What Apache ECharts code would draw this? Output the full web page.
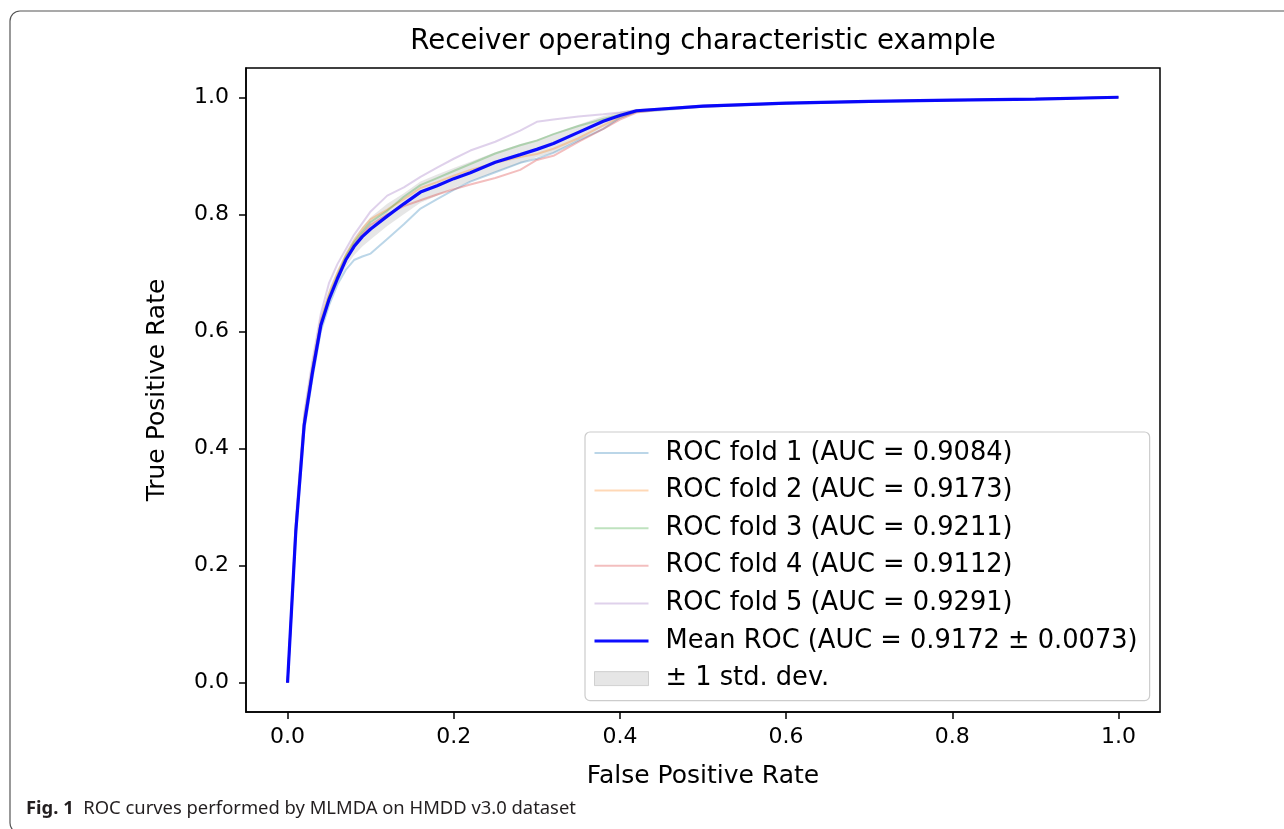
<!DOCTYPE html>
<html>
<head>
<meta charset="utf-8">
<style>
  html, body { margin: 0; padding: 0; background: #fff; }
  #roc { width: 1284px; height: 829px; }
</style>
<script src="https://cdn.jsdelivr.net/npm/echarts@6/dist/echarts.min.js"></script>
</head>
<body>
<div id="roc"></div>
<script>
  // false positive rate grid shared by every curve
  const fpr = [0, 0.005, 0.01, 0.02, 0.03, 0.04, 0.05, 0.06, 0.07, 0.08, 0.09, 0.10, 0.12, 0.14, 0.16, 0.18,
    0.20, 0.22, 0.25, 0.28, 0.30, 0.32, 0.35, 0.38, 0.40, 0.42, 0.45, 0.5, 0.6, 0.7, 0.8, 0.9, 1.0]

  // tpr of each fold
  const fold1 = [0, 0.12, 0.25, 0.43, 0.52, 0.60, 0.645, 0.68, 0.705, 0.722, 0.728, 0.733, 0.758, 0.783, 0.81, 0.826,
    0.842, 0.856, 0.872, 0.888, 0.895, 0.905, 0.926, 0.946, 0.965, 0.975, 0.978, 0.984, 0.989, 0.992, 0.995, 0.997, 1.0]
  const fold2 = [0, 0.13, 0.27, 0.45, 0.54, 0.62, 0.665, 0.70, 0.73, 0.755, 0.775, 0.792, 0.808, 0.826, 0.845, 0.855,
    0.866, 0.876, 0.888, 0.898, 0.903, 0.912, 0.93, 0.952, 0.966, 0.976, 0.98, 0.985, 0.99, 0.993, 0.995, 0.997, 1.0]
  const fold3 = [0, 0.13, 0.27, 0.45, 0.54, 0.615, 0.66, 0.695, 0.728, 0.752, 0.77, 0.787, 0.806, 0.83, 0.85, 0.862,
    0.874, 0.886, 0.904, 0.918, 0.926, 0.937, 0.951, 0.963, 0.97, 0.977, 0.98, 0.985, 0.99, 0.993, 0.995, 0.997, 1.0]
  const fold4 = [0, 0.13, 0.26, 0.44, 0.535, 0.61, 0.655, 0.69, 0.722, 0.748, 0.766, 0.782, 0.80, 0.814, 0.824, 0.834,
    0.843, 0.851, 0.862, 0.876, 0.893, 0.90, 0.924, 0.946, 0.962, 0.974, 0.979, 0.984, 0.99, 0.993, 0.995, 0.997, 1.0]
  const fold5 = [0, 0.14, 0.28, 0.46, 0.55, 0.63, 0.683, 0.715, 0.74, 0.765, 0.785, 0.805, 0.832, 0.846, 0.864, 0.88,
    0.895, 0.909, 0.924, 0.943, 0.958, 0.962, 0.967, 0.971, 0.974, 0.978, 0.981, 0.986, 0.99, 0.993, 0.995, 0.997, 1.0]

  const meanTpr = [0, 0.13, 0.26, 0.44, 0.53, 0.61, 0.655, 0.69, 0.722, 0.745, 0.762, 0.775, 0.797, 0.818, 0.838, 0.849,
    0.861, 0.871, 0.889, 0.902, 0.911, 0.921, 0.94, 0.959, 0.969, 0.977, 0.98, 0.985, 0.99, 0.993, 0.995, 0.997, 1.0]
  const bandLow = [0, 0.12, 0.255, 0.435, 0.525, 0.603, 0.648, 0.682, 0.71, 0.73, 0.745, 0.757, 0.78, 0.80, 0.82, 0.832,
    0.845, 0.856, 0.872, 0.887, 0.898, 0.905, 0.927, 0.949, 0.963, 0.974, 0.978, 0.984, 0.989, 0.992, 0.994, 0.996, 1.0]
  const bandHigh = [0, 0.14, 0.275, 0.455, 0.545, 0.625, 0.672, 0.705, 0.735, 0.76, 0.779, 0.795, 0.818, 0.836, 0.856, 0.868,
    0.879, 0.89, 0.906, 0.92, 0.928, 0.938, 0.953, 0.968, 0.975, 0.98, 0.982, 0.986, 0.991, 0.994, 0.996, 0.998, 1.0]

  const foldNames = ['ROC fold 1 (AUC = 0.9084)', 'ROC fold 2 (AUC = 0.9173)', 'ROC fold 3 (AUC = 0.9211)',
    'ROC fold 4 (AUC = 0.9112)', 'ROC fold 5 (AUC = 0.9291)']
  const meanName = 'Mean ROC (AUC = 0.9172 \u00b1 0.0073)'
  const bandName = '\u00b1 1 std. dev.'
  const foldColors = ['#1f77b4', '#ff7f0e', '#2ca02c', '#d62728', '#9467bd']
  const ticks = [0, 0.2, 0.4, 0.6, 0.8, 1.0]

  let pairs = (ys) => fpr.map((x, i) => [x, ys[i]])
  let folds = [fold1, fold2, fold3, fold4, fold5]

  let series = []
  // grey band: one polygon, upper edge forward then lower edge back
  series.push({
    name: bandName, type: 'custom', silent: true, z: 1,
    itemStyle: { color: 'rgba(128,128,128,0.2)' },
    data: fpr.map((x, i) => [x, bandLow[i], bandHigh[i]]),
    encode: { x: 0, y: [1, 2] },
    renderItem: (params, api) => {
      if (params.dataIndex !== 0) return null
      let pts = []
      for (let i = 0; i < fpr.length; i++) pts.push(api.coord([fpr[i], bandHigh[i]]))
      for (let i = fpr.length - 1; i >= 0; i--) pts.push(api.coord([fpr[i], bandLow[i]]))
      return {
        type: 'polygon',
        shape: { points: pts },
        style: { fill: 'rgba(128,128,128,0.2)' }
      }
    }
  })
  for (let i = 0; i < folds.length; i++) {
    series.push({
      name: foldNames[i], type: 'line', data: pairs(folds[i]), symbol: 'none',
      itemStyle: { color: foldColors[i] },
      lineStyle: { color: foldColors[i], width: 2, opacity: 0.3 }, z: 2
    })
  }
  series.push({
    name: meanName, type: 'line', data: pairs(meanTpr), symbol: 'none',
    itemStyle: { color: '#0000ff' },
    lineStyle: { color: '#0000ff', width: 3.2, opacity: 0.95 }, z: 3
  })

  let legendData = foldNames.map((n, i) => ({
    name: n, itemStyle: { opacity: 0 },
    lineStyle: { color: foldColors[i], width: 2, opacity: 0.3 }
  }))
  legendData.push({
    name: meanName, itemStyle: { opacity: 0 },
    lineStyle: { color: '#0000ff', width: 3, opacity: 0.95 }
  })
  legendData.push({
    name: bandName, icon: 'rect',
    itemStyle: { color: 'rgba(128,128,128,0.2)', borderColor: 'rgba(128,128,128,0.3)', borderWidth: 1 }
  })

  let chart = echarts.init(document.getElementById('roc'))
  let axisCommon = {
    type: 'value', min: -0.05, max: 1.05, nameLocation: 'middle',
    nameTextStyle: { fontFamily: 'DejaVu Sans', fontSize: 25, color: '#000' },
    axisLine: { show: true, onZero: false, lineStyle: { color: '#000', width: 1.5 } },
    axisTick: { show: true, length: 7, customValues: ticks, lineStyle: { color: '#000', width: 1.5 } },
    splitLine: { show: false }
  }
  let option = {
    animation: false,
    backgroundColor: '#fff',
    textStyle: { fontFamily: 'DejaVu Sans' },
    title: {
      text: 'Receiver operating characteristic example',
      left: 703, top: 28, textAlign: 'center', padding: 0,
      textStyle: { fontFamily: 'DejaVu Sans', fontSize: 27.6, fontWeight: 'normal', color: '#000' }
    },
    grid: {
      left: 246, top: 68, width: 914, height: 644,
      show: true, borderColor: '#000', borderWidth: 1.5, backgroundColor: 'transparent'
    },
    xAxis: Object.assign({}, axisCommon, {
      name: 'False Positive Rate', nameGap: 52,
      axisLabel: {
        customValues: ticks, margin: 14, fontSize: 22, color: '#000', fontFamily: 'DejaVu Sans',
        formatter: (v) => v.toFixed(1)
      }
    }),
    yAxis: Object.assign({}, axisCommon, {
      name: 'True Positive Rate', nameGap: 76, nameRotate: 90,
      axisLabel: {
        customValues: ticks, margin: 17, fontSize: 22, color: '#000', fontFamily: 'DejaVu Sans',
        formatter: (v) => v.toFixed(1)
      }
    }),
    legend: {
      orient: 'vertical', left: 585, top: 432,
      data: legendData,
      itemWidth: 54, itemHeight: 14, itemGap: 9.6,
      padding: [7, 12, 8, 8],
      backgroundColor: 'rgba(255,255,255,0.8)',
      borderColor: '#cccccc', borderWidth: 1.2, borderRadius: 5,
      textStyle: { fontFamily: 'DejaVu Sans', fontSize: 25.7, lineHeight: 28, color: '#000', padding: [0, 0, 0, 12] }
    },
    graphic: [
      {
        type: 'rect', silent: true,
        shape: { x: 10, y: 11, width: 1300, height: 822, r: 10 },
        style: { fill: 'none', stroke: '#555', lineWidth: 1.2 }
      },
      {
        type: 'text', left: 26, top: 800,
        style: {
          text: '{b|Fig. 1}  ROC curves performed by MLMDA on HMDD v3.0 dataset',
          font: '18.4px "Noto Sans"', fill: '#231f20',
          rich: { b: { fontWeight: 'bold', fontSize: 18.4, fontFamily: 'Noto Sans', fill: '#231f20' } }
        }
      }
    ],
    series: series
  }
  chart.setOption(option)
</script>
</body>
</html>
